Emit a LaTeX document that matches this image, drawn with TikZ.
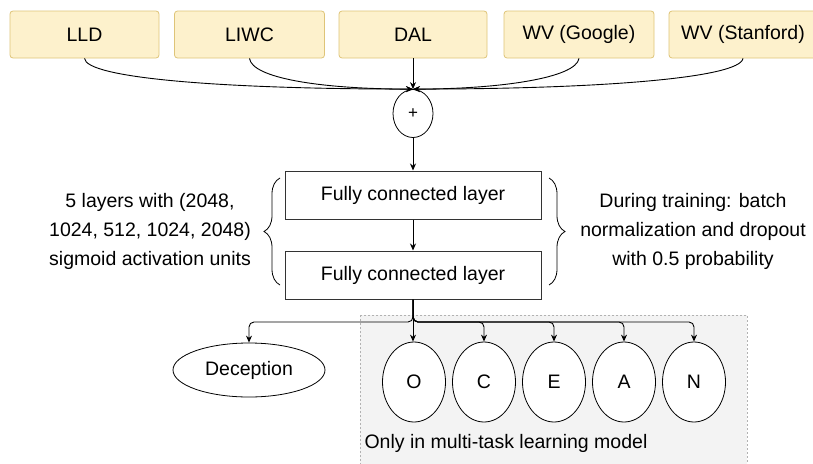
\documentclass[tikz,border=0pt]{standalone}
\usepackage{fontspec}
\setmainfont{Liberation Sans}
\usetikzlibrary{arrows.meta,shapes.geometric,decorations.pathreplacing,calc}
\definecolor{boxfill}{RGB}{253,241,204}
\definecolor{boxline}{RGB}{222,196,120}
\definecolor{regfill}{RGB}{243,243,243}
\begin{document}
\begin{tikzpicture}[x=1pt,y=-1pt,
  font=\fontsize{19.5}{29}\selectfont,
  topbox/.style={draw=boxline,fill=boxfill,rounded corners=3pt,line width=0.8pt,minimum height=47pt,inner sep=0pt},
  fcbox/.style={draw=black!80,fill=white,line width=1pt,minimum width=256pt,minimum height=48pt,inner sep=0pt},
  outell/.style={draw,ellipse,fill=white,line width=0.8pt,inner sep=0pt},
  arr/.style={-{Stealth[length=7pt,width=6pt]},line width=0.9pt},
  brc/.style={decorate,decoration={brace,amplitude=16pt,aspect=0.5},line width=0.8pt},
  sidetext/.style={align=center}
]
\useasboundingbox (0,0) rectangle (813,463);
% gray region
\path[fill=regfill,draw=gray!60,dash pattern=on 2pt off 2pt,line width=0.7pt] (360,315) rectangle (747,475);
% top boxes
\node[topbox,minimum width=149pt] (lld) at (84.5,34.5) {LLD};
\node[topbox,minimum width=150pt] (liwc) at (249.5,34.5) {LIWC};
\node[topbox,minimum width=148pt] (dal) at (413,34.5) {DAL};
\node[topbox,minimum width=150pt] (wvg) at (579,34.5) {WV (Google)};
\node[topbox,minimum width=148pt] (wvs) at (743,34.5) {WV (Stanford)};
% plus
\node[outell,minimum width=40pt,minimum height=48pt,font=\fontsize{17}{18}\selectfont] (plus) at (413,113.5) {+};
\draw[arr] (lld.south) .. controls (86,78) and (220,89) .. (plus.north);
\draw[arr] (liwc.south) .. controls (252,78) and (320,89) .. (plus.north);
\draw[arr] (dal.south) -- (plus.north);
\draw[arr] (wvg.south) .. controls (576,78) and (500,89) .. (plus.north);
\draw[arr] (wvs.south) .. controls (740,78) and (600,89) .. (plus.north);
% FC layers
\node[fcbox] (fc1) at (413,195) {Fully connected layer};
\node[fcbox] (fc2) at (413,275) {Fully connected layer};
\draw[arr] (plus.south) -- (fc1.north);
\draw[arr] (fc1.south) -- (fc2.north);
% braces
\draw[brc] (280,285) -- (280,178);
\draw[brc] (549,178) -- (549,285);
\node[sidetext] (ltext) at (150,231) {5 layers with (2048,\\1024, 512, 1024, 2048)\\sigmoid activation units};
\node[sidetext] (rtext) at (693,231) {During training: batch\\normalization and dropout\\with 0.5 probability};
% outputs
\node[outell,minimum width=152pt,minimum height=54pt] (dec) at (249,370) {Deception};
\node[outell,minimum width=63pt,minimum height=80pt] (o) at (414,382) {O};
\node[outell,minimum width=63pt,minimum height=80pt] (c) at (484,382) {C};
\node[outell,minimum width=63pt,minimum height=80pt] (e) at (554,382) {E};
\node[outell,minimum width=63pt,minimum height=80pt] (a) at (624,382) {A};
\node[outell,minimum width=63pt,minimum height=80pt] (n) at (694,382) {N};
\coordinate (split) at (413,322);
\draw[arr,rounded corners=5pt] (fc2.south) |- (dec.north |- split) -- (dec.north);
\draw[arr] (fc2.south) -- (fc2.south |- o.north);
\foreach \t in {c,e,a,n}{
  \draw[arr,rounded corners=5pt] (fc2.south) |- (\t.north |- split) -- (\t.north);
}
\node[anchor=west] (note) at (361,443) {Only in multi-task learning model};
\end{tikzpicture}
\end{document}
